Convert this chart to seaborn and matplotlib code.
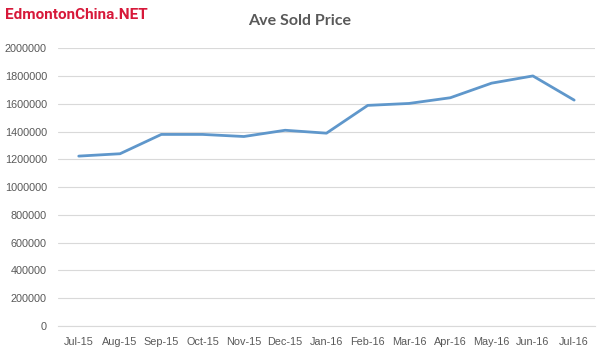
import pandas as pd
import matplotlib.pyplot as plt
import seaborn as sns

months = ['Jul-15', 'Aug-15', 'Sep-15', 'Oct-15', 'Nov-15', 'Dec-15', 'Jan-16',
          'Feb-16', 'Mar-16', 'Apr-16', 'May-16', 'Jun-16', 'Jul-16']
price = [1223000, 1240000, 1379000, 1379000, 1364000, 1409000, 1388000,
         1588000, 1602000, 1643000, 1748000, 1800000, 1626000]

df = pd.DataFrame({'month': months, 'price': price})
df['pos'] = range(len(months))

sns.set_style('white')
plt.rcParams['font.family'] = ['Liberation Sans', 'DejaVu Sans']

fig = plt.figure(figsize=(5.99, 3.54), dpi=100)
ax = fig.add_axes([0.097, 0.079, 0.896, 0.785])

sns.lineplot(data=df, x='pos', y='price', ax=ax, color='#5f97cb', linewidth=2.0)

ax.set_xlim(-0.5, len(months) - 0.5)
ax.set_ylim(0, 2000000)
ax.set_yticks(range(0, 2000001, 200000))
ax.set_yticklabels([str(v) for v in range(0, 2000001, 200000)])
ax.set_xticks(df['pos'])
ax.set_xticklabels(months)
ax.set_xticks([i + 0.5 for i in range(-1, len(months))], minor=True)
ax.tick_params(axis='x', which='major', length=0, pad=8, labelsize=7.8, labelcolor='#595959')
ax.tick_params(axis='x', which='minor', length=4, color='#d9d9d9', width=0.8)
ax.tick_params(axis='y', length=0, pad=8, labelsize=7.8, labelcolor='#595959')
ax.grid(axis='y', color='#d9d9d9', linewidth=0.8)
ax.set_axisbelow(True)
for s in ['top', 'right', 'left']:
    ax.spines[s].set_visible(False)
ax.spines['bottom'].set_color('#d9d9d9')
ax.set_xlabel('')
ax.set_ylabel('')

fig.text(0.5, 0.94, 'Ave Sold Price', ha='center', va='center', fontsize=11.5,
         color='#595959', fontweight='bold', family='Lato')
fig.text(0.008, 0.957, 'EdmontonChina.NET', ha='left', va='center', fontsize=11,
         color='#d7193a', fontweight='bold', family='Roboto')

fig.savefig('out.png', dpi=100)
